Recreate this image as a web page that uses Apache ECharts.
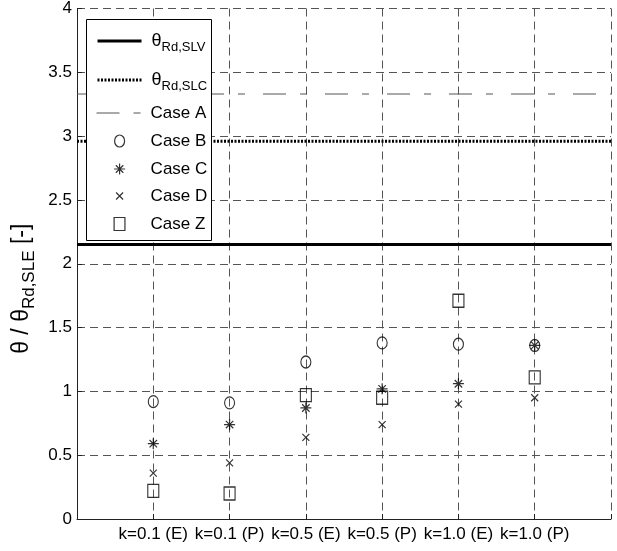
<!DOCTYPE html>
<html>
<head>
<meta charset="utf-8">
<script src="https://cdn.jsdelivr.net/npm/echarts@6/dist/echarts.min.js"></script>
<style>html,body{margin:0;padding:0;background:#fff}#c{width:617px;height:551px}</style>
</head>
<body>
<div id="c"></div>
<script>
const categories = ['k=0.1 (E)', 'k=0.1 (P)', 'k=0.5 (E)', 'k=0.5 (P)', 'k=1.0 (E)', 'k=1.0 (P)'];
const caseB = [0.92, 0.91, 1.23, 1.38, 1.37, 1.36];
const caseC = [0.59, 0.74, 0.87, 1.02, 1.06, 1.36];
const caseD = [0.36, 0.44, 0.64, 0.74, 0.90, 0.95];
const caseZ = [0.22, 0.20, 0.97, 0.95, 1.71, 1.11];
const thetaSLV = 2.15;
const thetaSLC = 2.96;
const caseA = 3.33;
const yTicks = [0, 0.5, 1, 1.5, 2, 2.5, 3, 3.5, 4];

const FONT = "'Liberation Sans', Arial, sans-serif";
const SYM_CIRCLE = 'path://M0,6A5,6,0,1,1,10,6A5,6,0,1,1,0,6Z';
const SYM_STAR = 'path://M5,0L5,10M0,5L10,5M1.6,1.6L8.4,8.4M1.6,8.4L8.4,1.6';
const SYM_X = 'path://M0,0L10,10M0,10L10,0';
const SYM_SQ = 'path://M0,0L10,0L10,12L0,12Z';

const xMax = categories.length + 1;
const pts = arr => arr.map((v, i) => [i + 1, v]);
const hline = v => [[0, v], [xMax, v]];
const markerStyle = {color: 'transparent', borderColor: '#000', borderWidth: 1.2};

const nameSLV = 'θRd,SLV', nameSLC = 'θRd,SLC';
const richLegend = {
  t: {fontSize: 18, lineHeight: 26, fontFamily: FONT, color: '#000'},
  s: {fontSize: 13, lineHeight: 10, verticalAlign: 'bottom', fontFamily: FONT, color: '#000'}
};
const TEXT_X = 150, MARK_CX = 119;
function mkLegend(name, top, extra, iconW) {
  const left = iconW ? MARK_CX - iconW / 2 : 96;
  const w = iconW || 44;
  const padL = TEXT_X - (left + w + 5);
  return Object.assign({
    data: [name], left: left, top: top, padding: 0, itemWidth: w, itemHeight: 12,
    selectedMode: false, orient: 'vertical',
    textStyle: {fontSize: 17, lineHeight: 20, fontFamily: FONT, color: '#000', padding: [0, 0, 0, padL], rich: richLegend},
    itemStyle: {color: 'transparent', borderColor: '#000', borderWidth: 1.2},
    formatter: n => n === nameSLV ? '{t|θ}{s|Rd,SLV}' : (n === nameSLC ? '{t|θ}{s|Rd,SLC}' : n)
  }, extra || {});
}
const hideSym = {color: 'transparent', borderColor: 'transparent', borderWidth: 0, opacity: 0};

const chart = echarts.init(document.getElementById('c'), null, {renderer: 'canvas'});
chart.setOption({
  animation: false,
  backgroundColor: '#fff',
  textStyle: {fontFamily: FONT},
  grid: {left: 77, right: 6, top: 8, bottom: 32, containLabel: false},
  xAxis: {
    type: 'value', min: 0, max: xMax, interval: 1,
    axisLine: {show: true, lineStyle: {color: '#222', width: 1}},
    axisTick: {show: true, inside: true, length: 5, lineStyle: {color: '#222'}},
    axisLabel: {fontSize: 17, color: '#000', margin: 7, fontFamily: FONT,
      formatter: v => categories[v - 1] || ''},
    splitLine: {show: true, lineStyle: {color: '#555', width: 1, type: [8, 5]}}
  },
  yAxis: {
    type: 'value', min: yTicks[0], max: yTicks[yTicks.length - 1], interval: 0.5,
    axisLine: {show: true, lineStyle: {color: '#222', width: 1}},
    axisTick: {show: true, inside: true, length: 5, lineStyle: {color: '#222'}},
    axisLabel: {fontSize: 17, color: '#000', margin: 5, fontFamily: FONT},
    splitLine: {show: true, lineStyle: {color: '#555', width: 1, type: [8, 5]}},
    name: '{t|θ / θ}{s|Rd,SLE}{t| [-]}',
    nameLocation: 'middle', nameGap: 36, nameRotate: 90,
    nameTextStyle: {padding: [0, 50, 0, 0], rich: {
      t: {fontSize: 23, lineHeight: 32, fontFamily: FONT, color: '#000'},
      s: {fontSize: 17, lineHeight: 13, verticalAlign: 'bottom', fontFamily: FONT, color: '#000'}
    }}
  },
  legend: [
    mkLegend(nameSLV, 28, {lineStyle: {width: 3}, itemStyle: hideSym}),
    mkLegend(nameSLC, 67, {lineStyle: {width: 3}, itemStyle: hideSym}),
    mkLegend('Case A', 103, {lineStyle: {width: 1}, itemStyle: hideSym}),
    mkLegend('Case B', 131, {itemHeight: 12}, 10),
    mkLegend('Case C', 159, {itemHeight: 11}, 11),
    mkLegend('Case D', 186, {itemHeight: 7}, 7),
    mkLegend('Case Z', 214, {itemHeight: 13}, 11)
  ],
  graphic: [{
    type: 'rect', z: 3, silent: true,
    shape: {x: 86.5, y: 19.5, width: 125, height: 221},
    style: {fill: '#fff', stroke: '#000', lineWidth: 1}
  }],
  series: [
    {name: nameSLV, type: 'line', data: hline(thetaSLV), symbol: 'none', z: 2,
      lineStyle: {color: '#000', width: 3, type: 'solid'}},
    {name: nameSLC, type: 'line', data: hline(thetaSLC), symbol: 'none', z: 2,
      lineStyle: {color: '#000', width: 3, type: [2, 1.5]}},
    {name: 'Case A', type: 'line', data: hline(caseA), symbol: 'none', z: 2,
      lineStyle: {color: '#555', width: 1, type: [23, 14, 7, 18]}},
    {name: 'Case B', type: 'scatter', data: pts(caseB), symbol: SYM_CIRCLE, symbolSize: [10, 12], itemStyle: markerStyle},
    {name: 'Case C', type: 'scatter', data: pts(caseC), symbol: SYM_STAR, symbolSize: [11, 11], itemStyle: markerStyle},
    {name: 'Case D', type: 'scatter', data: pts(caseD), symbol: SYM_X, symbolSize: [7, 7], itemStyle: markerStyle},
    {name: 'Case Z', type: 'scatter', data: pts(caseZ), symbol: SYM_SQ, symbolSize: [11, 13], itemStyle: markerStyle}
  ]
});
</script>
</body>
</html>
